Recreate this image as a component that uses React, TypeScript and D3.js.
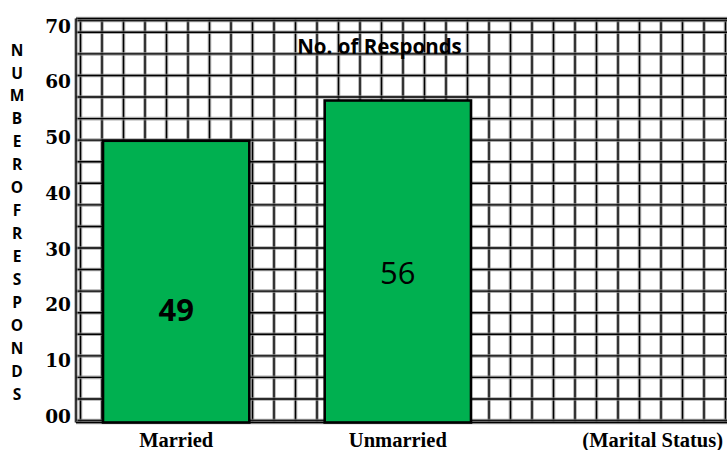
import React from 'react';
import * as d3 from 'd3';

// Survey results: number of responds by marital status
const categories = ['Married', 'Unmarried'];
const responds = [49, 56];
const axisNote = '(Marital Status)';
const tickValues = [0, 10, 20, 30, 40, 50, 60, 70];
const tickLabels = ['00', '10', '20', '30', '40', '50', '60', '70'];
const yTitle = 'NUMBEROFRESPONDS';
const chartTitle = 'No. of Responds';

const W = 727;
const H = 450;
const plot = { left: 76, top: 18.5, right: 727, bottom: 422.5 };

// how each value label is drawn inside its bar
const valueLabelStyle = [
  { weight: 700, size: 31, lift: 0.4 },
  { weight: 400, size: 31, lift: 0.465 },
];

const sans = '"Open Sans", "Noto Sans", sans-serif';
const serif = '"Liberation Serif", "Times New Roman", serif';

export default function App() {
  const y = d3.scaleLinear().domain([0, 70]).range([plot.bottom, 20]);
  // tick labels sit on their own, slightly tighter, scale
  const tickY = d3.scaleLinear().domain([0, 70]).range([422.7, 32.7]);
  const x = d3
    .scaleBand<string>()
    .domain(categories)
    .range([103, 471])
    .paddingInner(0.34)
    .paddingOuter(0);

  // graph-paper grid
  const vLines = d3.range(80.5, plot.right, 21.5);
  const hLines = d3.range(32.3, 421, 21.57);

  const gridLine = (key: string, x1: number, y1: number, x2: number, y2: number) => (
    <g key={key}>
      <line x1={x1} y1={y1} x2={x2} y2={y2} stroke="#8a8a8a" strokeWidth={3.6} strokeOpacity={0.7} />
      <line x1={x1} y1={y1} x2={x2} y2={y2} stroke="#000" strokeWidth={1.4} />
    </g>
  );

  const letterStep = (394 - 50) / (yTitle.length - 1);

  return (
    <svg
      width={W}
      height={H}
      viewBox={`0 0 ${W} ${H}`}
      style={{ position: 'absolute', left: 0, top: 0, background: '#fff' }}
    >
      <rect x={0} y={0} width={W} height={H} fill="#fff" />

      {/* grid */}
      <g>
        {vLines.map((vx, i) => gridLine(`v${i}`, vx, plot.top, vx, plot.bottom))}
        {hLines.map((hy, i) => gridLine(`h${i}`, plot.left, hy, plot.right, hy))}
        {gridLine('top2', plot.left, 20.5, plot.right, 20.5)}
        {gridLine('top', plot.left, plot.top, plot.right, plot.top)}
        {gridLine('left', plot.left, plot.top, plot.left, plot.bottom)}
        {gridLine('bottom', plot.left, plot.bottom, plot.right, plot.bottom)}
      </g>

      {/* title */}
      <text
        x={379.5}
        y={53.5}
        textAnchor="middle"
        fontFamily={sans}
        fontWeight={700}
        fontSize={20.5}
        fill="#000"
      >
        {chartTitle}
      </text>

      {/* bars */}
      {categories.map((c, i) => {
        const bx = x(c) as number;
        const by = y(responds[i]);
        return (
          <rect
            key={c}
            x={bx}
            y={by}
            width={x.bandwidth()}
            height={y(0) - by}
            fill="#00B050"
            stroke="#000"
            strokeWidth={2.6}
          />
        );
      })}

      {/* value labels */}
      {categories.map((c, i) => {
        const s = valueLabelStyle[i];
        const cy = y(responds[i] * s.lift);
        return (
          <text
            key={`val-${c}`}
            x={(x(c) as number) + x.bandwidth() / 2}
            y={cy}
            dy="0.36em"
            textAnchor="middle"
            fontFamily={sans}
            fontWeight={s.weight}
            fontSize={s.size}
            fill="#000"
          >
            {responds[i]}
          </text>
        );
      })}

      {/* y tick labels */}
      {tickValues.map((v, i) => (
        <text
          key={`tick-${v}`}
          x={71}
          y={tickY(v)}
          textAnchor="end"
          fontFamily='"DejaVu Serif", serif'
          fontWeight={700}
          fontSize={18.5}
          fill="#000"
        >
          {tickLabels[i]}
        </text>
      ))}

      {/* stacked y axis title */}
      {yTitle.split('').map((ch, i) => (
        <text
          key={`yt-${i}`}
          x={17}
          y={50 + i * letterStep}
          dy="0.36em"
          textAnchor="middle"
          fontFamily={sans}
          fontWeight={700}
          fontSize={15.5}
          fill="#000"
        >
          {ch}
        </text>
      ))}

      {/* category labels */}
      {categories.map((c) => (
        <text
          key={`cat-${c}`}
          x={(x(c) as number) + x.bandwidth() / 2}
          y={447}
          textAnchor="middle"
          fontFamily={serif}
          fontWeight={700}
          fontSize={20.5}
          fill="#000"
        >
          {c}
        </text>
      ))}
      <text
        x={723}
        y={447}
        textAnchor="end"
        fontFamily={serif}
        fontWeight={700}
        fontSize={20.5}
        fill="#000"
      >
        {axisNote}
      </text>
    </svg>
  );
}
